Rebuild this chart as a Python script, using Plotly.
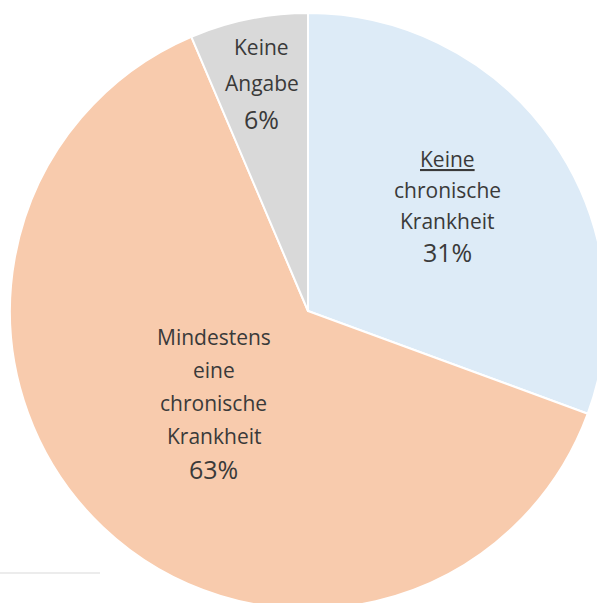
import math
import plotly.graph_objects as go

# ---- data ----
categories = ["Keine chronische Krankheit", "Mindestens eine chronische Krankheit", "Keine Angabe"]
values = [30.6, 63.0, 6.4]
label_lines = [
    ["<u>Keine</u>", "chronische", "Krankheit"],
    ["Mindestens", "eine", "chronische", "Krankheit"],
    ["Keine", "Angabe"],
]
colors = ["#DDEBF7", "#F8CBAD", "#D9D9D9"]

# ---- layout geometry (style) ----
W, H = 620, 620
CX, CY, R = 308, 311, 298
label_radius = [0.57, 0.46, 0.78]
label_dy = [-8, -7, 0]
line_gap = [31, 33, 36]
TEXT_COLOR = "#3A3A3A"
FONT = "Open Sans"

fig = go.Figure(go.Pie(
    labels=categories, values=values, sort=False, direction="clockwise",
    rotation=0, marker=dict(colors=colors, line=dict(color="white", width=2)),
    textinfo="none", hoverinfo="skip",
    domain=dict(x=[(CX - R) / W, (CX + R) / W], y=[1 - (CY + R) / H, 1 - (CY - R) / H]),
))

total = sum(values)
annotations = []
cum = 0
for i, v in enumerate(values):
    mid = (cum + v / 2) / total * 2 * math.pi
    cum += v
    r = label_radius[i] * R
    lx = CX + r * math.sin(mid)
    ly = CY - r * math.cos(mid) + label_dy[i]
    lines = label_lines[i] + [f"{round(v / total * 100)}%"]
    n = len(lines)
    for j, t in enumerate(lines):
        py = ly + (j - (n - 1) / 2) * line_gap[i]
        is_pct = j == n - 1
        annotations.append(dict(
            x=lx / W, y=1 - py / H, xref="paper", yref="paper", text=t,
            showarrow=False, xanchor="center", yanchor="middle",
            font=dict(family=FONT, size=25 if is_pct else 21, color=TEXT_COLOR),
        ))

fig.update_layout(
    width=W, height=H, margin=dict(l=0, r=0, t=0, b=0),
    paper_bgcolor="white", plot_bgcolor="white", showlegend=False,
    annotations=annotations,
    shapes=[dict(type="line", xref="paper", yref="paper", x0=0, x1=100 / W,
                 y0=1 - 573 / H, y1=1 - 573 / H, line=dict(color="#D9D9D9", width=1))],
)

fig.write_html("out.html", config={"displayModeBar": False},
               post_script="document.body.style.margin='0';document.body.style.overflow='hidden';")
